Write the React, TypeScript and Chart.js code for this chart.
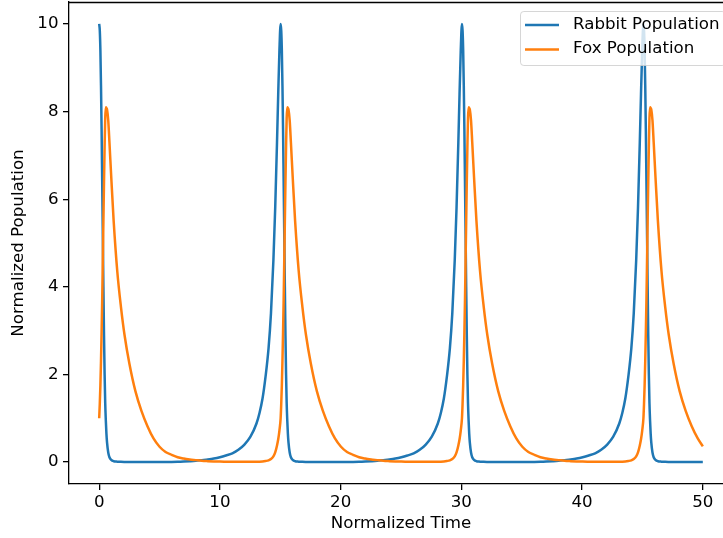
import React, { useEffect, useRef } from "react";
import { Chart, registerables } from "chart.js";

Chart.register(...registerables);

// Time samples (normalized time), denser around the peaks
const timeValues = [
  0, 0.05, 0.1, 0.15, 0.2, 0.25, 0.3, 0.35, 0.4, 0.45, 0.5, 0.55, 0.6, 0.65, 0.75, 0.85, 1.0, 1.2, 1.5, 1.8, 2.1, 2.5, 3.0, 3.5, 4.0, 4.5, 5.0, 5.5, 6.0, 6.5, 7.0, 7.5, 8.0, 8.5, 9.0, 9.5, 10.0, 10.5,
  11.03, 11.53, 12.03, 12.53, 13.03, 13.28, 13.53, 13.78, 14.03, 14.23, 14.43, 14.58, 14.73, 14.83, 14.93,
  15.03, 15.08, 15.13, 15.18, 15.23, 15.28, 15.33, 15.38, 15.43, 15.48, 15.53, 15.58, 15.63, 15.68, 15.78, 15.88, 16.03, 16.23, 16.53, 16.83, 17.13, 17.53, 18.03, 18.53, 19.03, 19.53, 20.03, 20.53, 21.03, 21.53, 22.03, 22.53, 23.03, 23.53, 24.03, 24.53, 25.03, 25.53,
  26.05, 26.55, 27.05, 27.55, 28.05, 28.3, 28.55, 28.8, 29.05, 29.25, 29.45, 29.6, 29.75, 29.85, 29.95,
  30.05, 30.1, 30.15, 30.2, 30.25, 30.3, 30.35, 30.4, 30.45, 30.5, 30.55, 30.6, 30.65, 30.7, 30.8, 30.9, 31.05, 31.25, 31.55, 31.85, 32.15, 32.55, 33.05, 33.55, 34.05, 34.55, 35.05, 35.55, 36.05, 36.55, 37.05, 37.55, 38.05, 38.55, 39.05, 39.55, 40.05, 40.55,
  41.08, 41.58, 42.08, 42.58, 43.08, 43.33, 43.58, 43.83, 44.08, 44.28, 44.48, 44.63, 44.78, 44.88, 44.98,
  45.08, 45.13, 45.18, 45.23, 45.28, 45.33, 45.38, 45.43, 45.48, 45.53, 45.58, 45.63, 45.68, 45.73, 45.83, 45.93, 46.08, 46.28, 46.58, 46.88, 47.18, 47.58, 48.08, 48.58, 49.08, 49.58, 50.0,
];

const rabbitValues = [
  10.0, 9.85, 9.4, 8.6, 7.6, 6.4, 5.2, 4.0, 2.9, 2.0, 1.35, 0.95, 0.65, 0.45, 0.22, 0.11, 0.05, 0.02, 0.01, 0.005, 0.003, 0.002, 0.001, 0.001, 0.001, 0.001, 0.002, 0.002, 0.003, 0.006, 0.012, 0.02, 0.03, 0.045, 0.06, 0.08, 0.11, 0.15,
  0.2, 0.28, 0.4, 0.58, 0.88, 1.12, 1.45, 1.95, 2.6, 3.4, 4.6, 5.8, 7.3, 8.4, 9.4,
  10.0, 9.85, 9.4, 8.6, 7.6, 6.4, 5.2, 4.0, 2.9, 2.0, 1.35, 0.95, 0.65, 0.45, 0.22, 0.11, 0.05, 0.02, 0.01, 0.005, 0.003, 0.002, 0.001, 0.001, 0.001, 0.001, 0.002, 0.002, 0.003, 0.006, 0.012, 0.02, 0.03, 0.045, 0.06, 0.08, 0.11, 0.15,
  0.2, 0.28, 0.4, 0.58, 0.88, 1.12, 1.45, 1.95, 2.6, 3.4, 4.6, 5.8, 7.3, 8.4, 9.4,
  10.0, 9.85, 9.4, 8.6, 7.6, 6.4, 5.2, 4.0, 2.9, 2.0, 1.35, 0.95, 0.65, 0.45, 0.22, 0.11, 0.05, 0.02, 0.01, 0.005, 0.003, 0.002, 0.001, 0.001, 0.001, 0.001, 0.002, 0.002, 0.003, 0.006, 0.012, 0.02, 0.03, 0.045, 0.06, 0.08, 0.11, 0.15,
  0.2, 0.28, 0.4, 0.58, 0.88, 1.12, 1.45, 1.95, 2.6, 3.4, 4.6, 5.8, 7.3, 8.4, 9.4,
  10.0, 9.85, 9.4, 8.6, 7.6, 6.4, 5.2, 4.0, 2.9, 2.0, 1.35, 0.95, 0.65, 0.45, 0.22, 0.11, 0.05, 0.02, 0.01, 0.005, 0.003, 0.002, 0.001, 0.001, 0.001, 0.001, 0.002,
];

const foxValues = [
  1.0, 1.33, 1.75, 2.3, 2.95, 3.7, 4.6, 5.5, 6.4, 7.2, 7.85, 8.1, 8.08, 8.05, 7.8, 7.3, 6.5, 5.5, 4.35, 3.55, 2.9, 2.25, 1.62, 1.17, 0.82, 0.54, 0.35, 0.23, 0.165, 0.11, 0.08, 0.06, 0.045, 0.03, 0.022, 0.016, 0.012, 0.01,
  0.008, 0.007, 0.007, 0.007, 0.008, 0.01, 0.015, 0.025, 0.04, 0.07, 0.13, 0.22, 0.38, 0.52, 0.72,
  1.0, 1.33, 1.75, 2.3, 2.95, 3.7, 4.6, 5.5, 6.4, 7.2, 7.85, 8.1, 8.08, 8.05, 7.8, 7.3, 6.5, 5.5, 4.35, 3.55, 2.9, 2.25, 1.62, 1.17, 0.82, 0.54, 0.35, 0.23, 0.165, 0.11, 0.08, 0.06, 0.045, 0.03, 0.022, 0.016, 0.012, 0.01,
  0.008, 0.007, 0.007, 0.007, 0.008, 0.01, 0.015, 0.025, 0.04, 0.07, 0.13, 0.22, 0.38, 0.52, 0.72,
  1.0, 1.33, 1.75, 2.3, 2.95, 3.7, 4.6, 5.5, 6.4, 7.2, 7.85, 8.1, 8.08, 8.05, 7.8, 7.3, 6.5, 5.5, 4.35, 3.55, 2.9, 2.25, 1.62, 1.17, 0.82, 0.54, 0.35, 0.23, 0.165, 0.11, 0.08, 0.06, 0.045, 0.03, 0.022, 0.016, 0.012, 0.01,
  0.008, 0.007, 0.007, 0.007, 0.008, 0.01, 0.015, 0.025, 0.04, 0.07, 0.13, 0.22, 0.38, 0.52, 0.72,
  1.0, 1.33, 1.75, 2.3, 2.95, 3.7, 4.6, 5.5, 6.4, 7.2, 7.85, 8.1, 8.08, 8.05, 7.8, 7.3, 6.5, 5.5, 4.35, 3.55, 2.9, 2.25, 1.62, 1.17, 0.82, 0.54, 0.36,
];

const xTickValues = [0, 10, 20, 30, 40, 50];
const yTickValues = [0, 2, 4, 6, 8, 10];
const seriesLabels = ["Rabbit Population", "Fox Population"];
const seriesColors = ["#1f77b4", "#ff7f0e"];
const xAxisTitle = "Normalized Time";
const yAxisTitle = "Normalized Population";

const FONT = '"DejaVu Sans", sans-serif';
const FS = 16.67;

export default function App() {
  const ref = useRef<HTMLCanvasElement>(null);

  useEffect(() => {
    const canvas = ref.current;
    if (!canvas) return;

    const framePlugin = {
      id: "frameTopRight",
      afterDraw(chart: any) {
        const { ctx, chartArea: a } = chart;
        ctx.save();
        ctx.strokeStyle = "#000";
        ctx.lineWidth = 1.3;
        ctx.beginPath();
        ctx.moveTo(a.left, a.top + 0.5);
        ctx.lineTo(a.right, a.top + 0.5);
        ctx.moveTo(a.right - 0.5, a.top);
        ctx.lineTo(a.right - 0.5, a.bottom);
        ctx.stroke();
        ctx.restore();
      },
    };

    const legendPlugin = {
      id: "mplLegend",
      afterDraw(chart: any) {
        const { ctx } = chart;
        ctx.save();
        const x0 = 520.5, y0 = 11.5, w = 205, h = 54;
        ctx.beginPath();
        if ((ctx as any).roundRect) (ctx as any).roundRect(x0, y0, w, h, 3.3);
        else ctx.rect(x0, y0, w, h);
        ctx.fillStyle = "rgba(255,255,255,0.8)";
        ctx.fill();
        ctx.strokeStyle = "rgba(204,204,204,0.8)";
        ctx.lineWidth = 1;
        ctx.stroke();
        const rowsLine = [25, 49.5];
        const rowsText = [24.5, 48.8];
        ctx.font = `${FS}px ${FONT}`;
        ctx.textBaseline = "middle";
        ctx.textAlign = "left";
        seriesLabels.forEach((label, i) => {
          ctx.strokeStyle = seriesColors[i];
          ctx.lineWidth = 2.5;
          ctx.beginPath();
          ctx.moveTo(525, rowsLine[i]);
          ctx.lineTo(559, rowsLine[i]);
          ctx.stroke();
          ctx.fillStyle = "#000";
          ctx.fillText(label, 573, rowsText[i]);
        });
        ctx.restore();
      },
    };

    const rabbitData = timeValues.map((t, i) => ({ x: t, y: rabbitValues[i] }));
    const foxData = timeValues.map((t, i) => ({ x: t, y: foxValues[i] }));

    const chart = new Chart(canvas, {
      type: "line",
      data: {
        datasets: [
          {
            label: seriesLabels[0],
            data: rabbitData,
            borderColor: seriesColors[0],
            backgroundColor: seriesColors[0],
            borderWidth: 2.5,
            pointRadius: 0,
            cubicInterpolationMode: "monotone",
            fill: false,
            order: 1,
          },
          {
            label: seriesLabels[1],
            data: foxData,
            borderColor: seriesColors[1],
            backgroundColor: seriesColors[1],
            borderWidth: 2.5,
            pointRadius: 0,
            cubicInterpolationMode: "monotone",
            fill: false,
            order: 0,
          },
        ],
      },
      options: {
        animation: false,
        responsive: false,
        devicePixelRatio: 1,
        layout: { padding: { left: 0, top: 2, right: 7, bottom: 0 } },
        plugins: {
          legend: { display: false },
          tooltip: { enabled: false },
        },
        scales: {
          x: {
            type: "linear",
            min: -2.5,
            max: 52.5,
            afterBuildTicks: (scale: any) => {
              scale.ticks = xTickValues.map((v) => ({ value: v }));
            },
            afterFit: (scale: any) => {
              scale.height = 54;
              scale.paddingLeft = 0;
              scale.paddingRight = 0;
              scale.paddingTop = 0;
              scale.paddingBottom = 0;
            },
            ticks: {
              color: "#000",
              font: { family: FONT, size: FS },
              padding: 3,
              maxRotation: 0,
              autoSkip: false,
              callback: (v: any) => String(v),
            },
            grid: {
              drawOnChartArea: false,
              drawTicks: true,
              tickLength: 6,
              color: "#000",
              lineWidth: 1.3,
            },
            border: { display: true, color: "#000", width: 1.3 },
            title: {
              display: true,
              text: xAxisTitle,
              color: "#000",
              font: { family: FONT, size: FS },
              padding: { top: 0, bottom: 4 },
            },
          },
          y: {
            type: "linear",
            min: -0.5,
            max: 10.5,
            afterBuildTicks: (scale: any) => {
              scale.ticks = yTickValues.map((v) => ({ value: v }));
            },
            afterFit: (scale: any) => {
              scale.width = 69;
              scale.paddingLeft = 0;
              scale.paddingRight = 0;
              scale.paddingTop = 0;
              scale.paddingBottom = 0;
            },
            ticks: {
              color: "#000",
              font: { family: FONT, size: FS },
              padding: 4.5,
              autoSkip: false,
              callback: (v: any) => String(v),
            },
            grid: {
              drawOnChartArea: false,
              drawTicks: true,
              tickLength: 6,
              color: "#000",
              lineWidth: 1.3,
            },
            border: { display: true, color: "#000", width: 1.3 },
            title: {
              display: true,
              text: yAxisTitle,
              color: "#000",
              font: { family: FONT, size: FS },
              padding: { top: 9, bottom: 0 },
            },
          },
        },
      },
      plugins: [framePlugin, legendPlugin],
    } as any);

    return () => {
      chart.destroy();
    };
  }, []);

  return (
    <div
      style={{
        position: "absolute",
        left: 0,
        top: 0,
        width: 723,
        height: 538,
        overflow: "hidden",
        background: "#fff",
      }}
    >
      <canvas ref={ref} width={740} height={538} style={{ display: "block", width: 740, height: 538 }} />
    </div>
  );
}
